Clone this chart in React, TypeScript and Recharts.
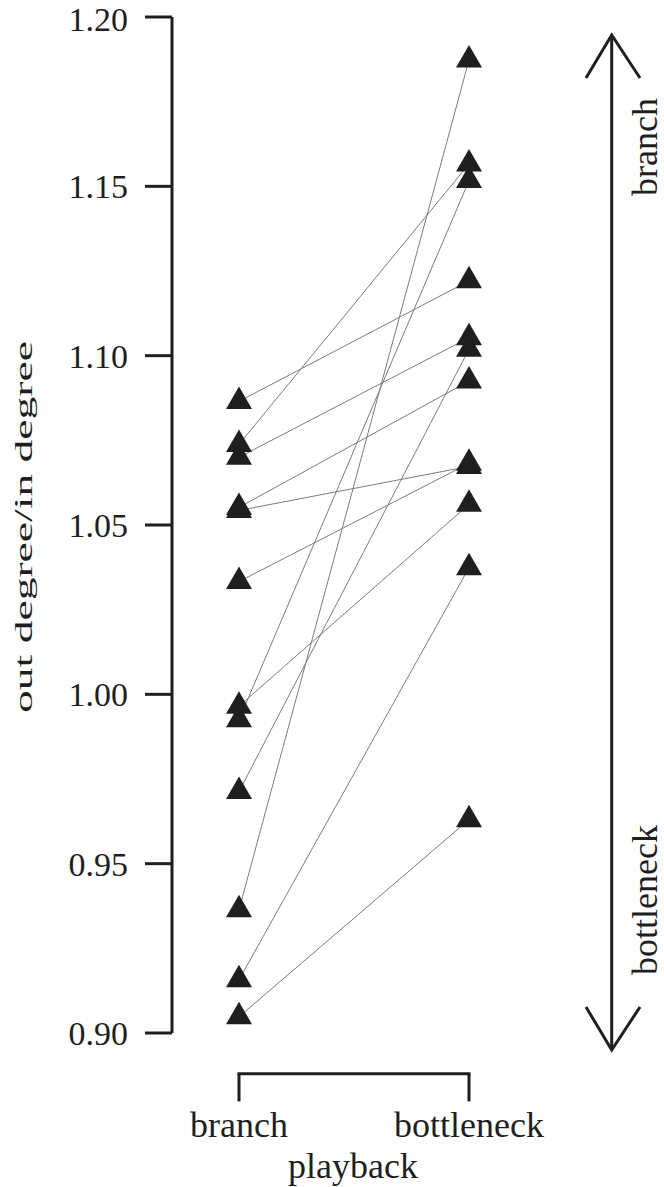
import React from 'react';
import { ScatterChart, Scatter, XAxis, YAxis, ReferenceLine } from 'recharts';

// ---- data ----
const categories = ['branch', 'bottleneck'];
const branchValues = [1.0865, 1.0738, 1.07, 1.0552, 1.0543, 1.0333, 0.9965, 0.9925, 0.9713, 0.9364, 0.9157, 0.9048];
const bottleneckValues = [1.1221, 1.1566, 1.1053, 1.0925, 1.0673, 1.0682, 1.0561, 1.1517, 1.1019, 1.1873, 1.0374, 0.963];
const yTicks = [0.9, 0.95, 1.0, 1.05, 1.1, 1.15, 1.2];
const yTitle = 'out degree/in degree';
const xTitle = 'playback';
const arrowLabels = ['branch', 'bottleneck'];

const pairs = branchValues.map((b, i) => [
  { x: 0, y: b },
  { x: 1, y: bottleneckValues[i] },
]);
const allPoints = pairs.flat();

// ---- style ----
const FONT = "'Liberation Serif', 'Times New Roman', serif";
const INK = '#1f1f1f';
const W = 664;
const H = 1187;
const BRACKET_TOP = 0.888;
const BRACKET_BOTTOM = 0.8798;

const Triangle = (props: any) => {
  const { cx, cy } = props;
  if (cx == null || cy == null) return <g />;
  const r = 15;
  const hw = 13;
  return (
    <polygon
      points={`${cx},${cy - r} ${cx + hw},${cy + r / 2} ${cx - hw},${cy + r / 2}`}
      fill={INK}
      stroke="none"
    />
  );
};

const NoShape = () => <g />;

const XTick = (props: any) => {
  const { x, y, payload } = props;
  return (
    <text x={x} y={y + 104} textAnchor="middle" fontFamily={FONT} fontSize={36} fill={INK}>
      {categories[payload.value]}
    </text>
  );
};

const XTitle = (props: any) => {
  const vb = props.viewBox || {};
  const cx = vb.x + vb.width / 2;
  return (
    <text x={cx - 1} y={vb.y + 145} textAnchor="middle" fontFamily={FONT} fontSize={36} fill={INK}>
      {xTitle}
    </text>
  );
};

const YTitle = (props: any) => {
  const vb = props.viewBox || {};
  const x = 31.7;
  const y = vb.y + vb.height / 2 + 2;
  return (
    <text
      x={x}
      y={y}
      transform={`rotate(-90, ${x}, ${y})`}
      textAnchor="middle"
      fontFamily={FONT}
      fontSize={26}
      fill={INK}
      textLength={372}
      lengthAdjust="spacingAndGlyphs"
    >
      {yTitle}
    </text>
  );
};

export default function App() {
  return (
    <div style={{ position: 'absolute', left: 0, top: 0, width: W, height: H, background: '#fff' }}>
      <ScatterChart width={W} height={H} margin={{ top: 17, right: 128, bottom: 0, left: 0 }}>
        <XAxis
          type="number"
          dataKey="x"
          domain={[0, 1]}
          ticks={[0, 1]}
          padding={{ left: 67, right: 67 }}
          height={154}
          axisLine={false}
          tickLine={false}
          tickSize={0}
          tickMargin={0}
          tick={<XTick />}
          label={{ content: <XTitle /> }}
          allowDecimals
        />
        <YAxis
          type="number"
          dataKey="y"
          domain={[0.9, 1.2]}
          ticks={yTicks}
          width={172}
          tickSize={27}
          tickMargin={17}
          tickFormatter={(v: number) => v.toFixed(2)}
          axisLine={{ stroke: INK, strokeWidth: 3 }}
          tickLine={{ stroke: INK, strokeWidth: 3 }}
          tick={{ fill: INK, fontSize: 34, fontFamily: FONT }}
          label={{ content: <YTitle /> }}
          allowDataOverflow
        />
        {pairs.map((p, i) => (
          <Scatter
            key={`pair-${i}`}
            data={p}
            line={{ stroke: '#7c7c7c', strokeWidth: 1 }}
            shape={<NoShape />}
            isAnimationActive={false}
          />
        ))}
        <Scatter data={allPoints} shape={<Triangle />} isAnimationActive={false} />
        <ReferenceLine
          segment={[{ x: 0, y: BRACKET_TOP }, { x: 1, y: BRACKET_TOP }]}
          ifOverflow="visible"
          stroke={INK}
          strokeWidth={3}
          strokeLinecap="square"
        />
        <ReferenceLine
          segment={[{ x: 0, y: BRACKET_TOP }, { x: 0, y: BRACKET_BOTTOM }]}
          ifOverflow="visible"
          stroke={INK}
          strokeWidth={3}
        />
        <ReferenceLine
          segment={[{ x: 1, y: BRACKET_TOP }, { x: 1, y: BRACKET_BOTTOM }]}
          ifOverflow="visible"
          stroke={INK}
          strokeWidth={3}
        />
      </ScatterChart>
      <svg
        width={W}
        height={H}
        style={{ position: 'absolute', left: 0, top: 0, pointerEvents: 'none' }}
      >
        <line x1={611.7} y1={36} x2={611.7} y2={1049} stroke={INK} strokeWidth={3} />
        <polyline points="586,78 611.7,35 640,78" fill="none" stroke={INK} strokeWidth={3} />
        <polyline points="586,1007 611.7,1050 640,1007" fill="none" stroke={INK} strokeWidth={3} />
        <text
          x={656.7}
          y={147}
          transform="rotate(-90, 656.7, 147)"
          textAnchor="middle"
          fontFamily={FONT}
          fontSize={36}
          fill={INK}
        >
          {arrowLabels[0]}
        </text>
        <text
          x={656.7}
          y={900}
          transform="rotate(-90, 656.7, 900)"
          textAnchor="middle"
          fontFamily={FONT}
          fontSize={36}
          fill={INK}
        >
          {arrowLabels[1]}
        </text>
      </svg>
    </div>
  );
}
